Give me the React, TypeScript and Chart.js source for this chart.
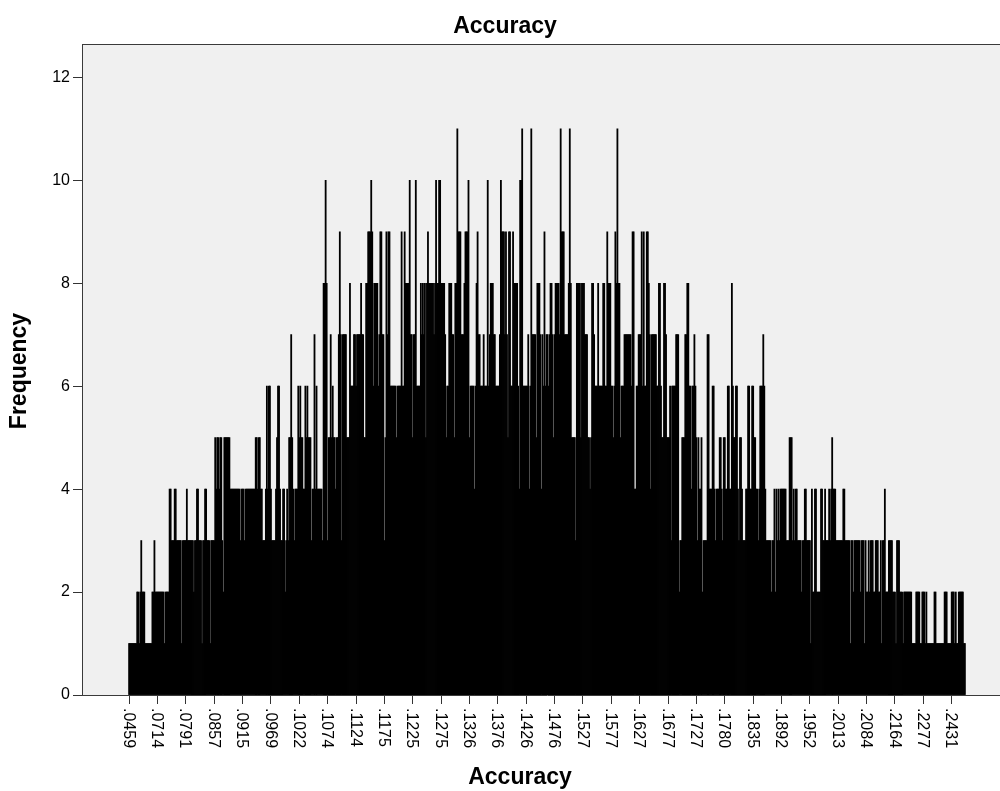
import React, { useEffect, useRef } from 'react';
import { Chart, registerables } from 'chart.js';

Chart.register(...registerables);

const FONT = '"Liberation Sans", Arial, sans-serif';

const chartTitle = 'Accuracy';
const xAxisTitle = 'Accuracy';
const yAxisTitle = 'Frequency';

// Tick labels shown under every 28th distinct value
const tickLabels = [
  '.0459', '.0714', '.0791', '.0857', '.0915', '.0969', '.1022', '.1074', '.1124', '.1175',
  '.1225', '.1275', '.1326', '.1376', '.1426', '.1476', '.1527', '.1577', '.1627', '.1677',
  '.1727', '.1780', '.1835', '.1892', '.1952', '.2013', '.2084', '.2164', '.2277', '.2431',
];
const LABEL_STEP = 28;
const EDGE_SLOTS = 46; // empty category slots on each side of the bars

const yTickValues = [0, 2, 4, 6, 8, 10, 12];

// Frequencies of each distinct Accuracy value, left to right
const freqSeg1 = [
  1, 1, 1, 1, 1, 1, 1, 1, 2, 2, 1, 2, 3, 2, 2, 2, 1, 1, 1, 1, 1, 1, 1, 2, 2, 3,
  2, 2, 2, 2, 2, 2, 2, 2, 2, 1, 2, 2, 2, 2, 4, 4, 3, 3, 3, 4, 4, 3, 3, 3, 3, 3,
  1, 3, 3, 3, 3, 4, 3, 3, 3, 3, 3, 3, 2, 3, 3, 4, 4, 3, 3, 3, 1, 3, 3, 4, 4, 3,
  3, 3, 1, 3, 3, 3, 3, 5, 4, 5, 5, 4, 5, 5, 3, 2, 5, 5, 5, 5, 5, 5, 4, 4, 4, 4,
  4, 4, 4, 4, 4, 4, 3, 4, 4, 4, 3, 4, 4, 4, 4, 4, 4, 4, 4, 4, 4, 5, 5, 4, 5, 5,
  4, 4, 3, 3, 3,
];
const freqSeg2 = [
  4, 6, 4, 6, 6, 4, 3, 3, 3, 3, 4, 5, 6, 6, 4, 3, 3, 4, 4, 2, 3, 4, 3, 5, 5, 7,
  5, 4, 3, 4, 4, 4, 6, 5, 6, 5, 5, 4, 4, 6, 5, 6, 5, 5, 5, 3, 4, 4, 7, 4, 6, 4,
  4, 4, 4, 4, 3, 8, 8, 10, 8, 3, 5, 5, 7, 5, 6, 5, 5, 4, 5, 5, 7, 9, 7, 3, 7, 7,
  7, 7, 5, 5, 5, 8, 6, 6, 6, 7, 7, 6, 7, 7, 7, 7, 8, 7, 7, 5, 5, 8, 8, 9, 9, 9,
  10, 9, 6, 8, 8, 8, 8, 6, 7, 9, 9, 7, 7, 3, 5, 9, 7, 9, 9, 6, 6, 6, 6, 6, 6, 5,
  6, 6, 6, 6, 9, 6, 6, 9,
];
const freqSeg3 = [
  8, 8, 8, 8, 10, 7, 7, 5, 7, 7, 10, 6, 6, 6, 6, 8, 7, 8, 7, 8, 5, 8, 9, 8, 8, 8,
  8, 8, 7, 8, 10, 8, 8, 10, 10, 8, 8, 8, 8, 7, 5, 6, 6, 8, 8, 8, 7, 7, 5, 8, 8,
  11, 9, 9, 9, 7, 7, 7, 8, 9, 9, 9, 10, 5, 6, 6, 6, 6, 4, 6, 8, 9, 7, 7, 6, 6, 6,
  7, 6, 6, 6, 10, 6, 7, 8, 8, 8, 7, 7, 6, 6, 6, 6, 7, 10, 9, 9, 9, 7, 9, 7, 5, 9,
  9, 6, 6, 9, 8, 8, 8, 8, 6, 4, 10, 10, 11, 6, 6, 6, 6, 6, 7, 4, 6, 11, 7, 7, 7,
  7, 5, 8, 8, 8, 7, 4, 7, 6, 9, 6,
];
const freqSeg4 = [
  7, 7, 6, 7, 8, 8, 7, 5, 7, 8, 8, 8, 8, 7, 11, 9, 9, 9, 7, 7, 7, 7, 8, 11, 8, 5,
  5, 5, 5, 3, 8, 8, 8, 8, 5, 8, 8, 8, 7, 7, 7, 5, 5, 4, 5, 8, 8, 7, 6, 6, 6, 8, 6,
  6, 6, 6, 8, 8, 6, 6, 9, 8, 8, 8, 6, 6, 5, 6, 9, 8, 11, 8, 8, 5, 6, 6, 6, 7, 7,
  7, 7, 7, 7, 7, 6, 9, 9, 4, 4, 6, 6, 7, 7, 7, 9, 6, 9, 6, 6, 9, 9, 8, 7, 4, 7, 7,
  7, 7, 7, 6, 6, 8, 8, 6, 5, 5, 8, 8, 7, 5, 5, 5, 6, 3, 6, 6, 6, 6, 7, 7, 7, 2, 3,
  3, 5, 5, 5, 7,
];
const freqSeg5 = [
  7, 8, 8, 6, 6, 4, 6, 6, 7, 6, 5, 3, 5, 4, 4, 5, 2, 3, 3, 3, 3, 7, 7, 4, 4, 4, 6,
  6, 4, 3, 4, 4, 4, 5, 5, 4, 3, 5, 5, 4, 4, 6, 6, 4, 4, 8, 6, 5, 5, 6, 6, 4, 3, 5,
  5, 4, 3, 3, 3, 4, 4, 6, 6, 4, 4, 6, 6, 5, 5, 4, 4, 3, 4, 6, 6, 6, 7, 6, 4, 3, 3,
  3, 3, 3, 2, 3, 3, 4, 2, 4, 3, 4, 3, 4, 4, 4, 4, 4, 4, 3, 3, 3, 5, 5, 5, 3, 4, 3,
  4, 4, 3, 3, 3, 3, 2, 3, 3, 4, 4, 3, 3, 3, 3, 1, 4, 2, 2, 4, 4, 2, 2, 2, 2, 4, 4,
  3, 3, 4,
];
const freqSeg6 = [
  3, 3, 3, 4, 3, 4, 5, 4, 4, 4, 3, 3, 3, 3, 3, 3, 3, 4, 4, 3, 3, 3, 3, 3, 1, 3, 3,
  2, 3, 3, 3, 3, 3, 3, 2, 3, 3, 3, 1, 3, 2, 2, 3, 2, 3, 3, 3, 2, 2, 3, 3, 3, 2, 2,
  3, 1, 3, 3, 4, 2, 2, 2, 3, 3, 3, 3, 2, 2, 2, 1, 3, 3, 3, 2, 2, 2, 1, 2, 2, 2, 2,
  2, 2, 2, 2, 1, 1, 1, 1, 2, 2, 2, 2, 1, 1, 2, 2, 2, 1, 2, 1, 1, 1, 1, 1, 1, 1, 2,
  2, 1, 1, 1, 1, 1, 1, 1, 1, 2, 2, 2, 1, 1, 1, 1, 2, 2, 2, 1, 2, 1, 1, 2, 2, 2, 2,
  2, 1, 1,
];

const frequencies = [...freqSeg1, ...freqSeg2, ...freqSeg3, ...freqSeg4, ...freqSeg5, ...freqSeg6];

export default function App() {
  const canvasRef = useRef<HTMLCanvasElement | null>(null);

  useEffect(() => {
    const canvas = canvasRef.current;
    if (!canvas) return;
    const n = frequencies.length;
    const total = n + 2 * EDGE_SLOTS;
    const isLabelled = (i: number) => {
      const j = i - EDGE_SLOTS;
      return j >= 0 && j < n && j % LABEL_STEP === 0 && j / LABEL_STEP < tickLabels.length;
    };
    const labels = Array.from({ length: total }, (_, i) =>
      isLabelled(i) ? tickLabels[(i - EDGE_SLOTS) / LABEL_STEP] : ''
    );
    const data = Array.from({ length: total }, (_, i) => {
      const j = i - EDGE_SLOTS;
      return j >= 0 && j < n ? frequencies[j] : null;
    });

    const decor = {
      id: 'spssDecor',
      beforeDraw(chart: any) {
        const { ctx, chartArea: a } = chart;
        ctx.save();
        ctx.fillStyle = '#F0F0F0';
        ctx.fillRect(a.left, a.top, a.right - a.left, a.bottom - a.top);
        ctx.restore();
      },
      afterDraw(chart: any) {
        const { ctx, chartArea: a } = chart;
        const xs = chart.scales.x;
        ctx.save();
        ctx.strokeStyle = '#3a3a3a';
        ctx.lineWidth = 1;
        ctx.beginPath();
        ctx.moveTo(a.left, a.top + 0.5);
        ctx.lineTo(a.right, a.top + 0.5);
        ctx.stroke();

        ctx.fillStyle = '#000';
        ctx.font = `16px ${FONT}`;
        ctx.textAlign = 'left';
        ctx.textBaseline = 'middle';
        for (let i = 0; i < total; i++) {
          if (!isLabelled(i)) continue;
          const x = xs.getPixelForValue(i);
          ctx.save();
          ctx.translate(x - 1, a.bottom + 13);
          ctx.rotate(Math.PI / 2);
          ctx.fillText(labels[i], 0, 0);
          ctx.restore();
        }

        ctx.font = `bold 23px ${FONT}`;
        ctx.textAlign = 'center';
        ctx.textBaseline = 'middle';
        ctx.fillText(chartTitle, 505, 27);
        ctx.fillText(xAxisTitle, 520, 778);
        ctx.save();
        ctx.translate(20, 371);
        ctx.rotate(-Math.PI / 2);
        ctx.fillText(yAxisTitle, 0, 0);
        ctx.restore();
        ctx.restore();
      },
    };

    const chart = new Chart(canvas, {
      type: 'bar',
      data: {
        labels,
        datasets: [
          {
            data,
            backgroundColor: '#000000',
            borderWidth: 0,
            barPercentage: 1,
            categoryPercentage: 1,
            inflateAmount: 0.4,
          },
        ],
      },
      options: {
        animation: false,
        responsive: false,
        maintainAspectRatio: false,
        devicePixelRatio: 1,
        layout: { padding: { top: 44, left: 0, right: 0, bottom: 0 } },
        plugins: {
          legend: { display: false },
          title: { display: false },
          tooltip: { enabled: false },
        },
        scales: {
          x: {
            type: 'category',
            offset: true,
            grid: {
              display: true,
              drawOnChartArea: false,
              drawTicks: true,
              tickLength: 9,
              offset: false,
              color: (c: any) => (isLabelled(c.index) ? '#333333' : 'rgba(0,0,0,0)'),
            },
            border: { display: true, color: '#3a3a3a', width: 1 },
            ticks: { display: false, autoSkip: false },
            afterFit: (s: any) => {
              s.height = 96;
            },
          },
          y: {
            min: 0,
            max: 12.65,
            grid: {
              display: true,
              drawOnChartArea: false,
              drawTicks: true,
              tickLength: 9,
              color: '#333333',
            },
            border: { display: true, color: '#3a3a3a', width: 1 },
            afterBuildTicks: (s: any) => {
              s.ticks = yTickValues.map((v) => ({ value: v }));
            },
            ticks: {
              color: '#000',
              padding: 3,
              font: { family: FONT, size: 16 },
              callback: (v: any) => String(v),
            },
            afterFit: (s: any) => {
              s.width = 82;
            },
          },
        },
      },
      plugins: [decor],
    });
    return () => chart.destroy();
  }, []);

  return (
    <div
      style={{
        position: 'fixed',
        left: 0,
        top: 0,
        width: 1000,
        height: 791,
        overflow: 'hidden',
        background: '#ffffff',
      }}
    >
      <canvas
        ref={canvasRef}
        width={1012}
        height={791}
        style={{ display: 'block', width: 1012, height: 791 }}
      />
    </div>
  );
}
